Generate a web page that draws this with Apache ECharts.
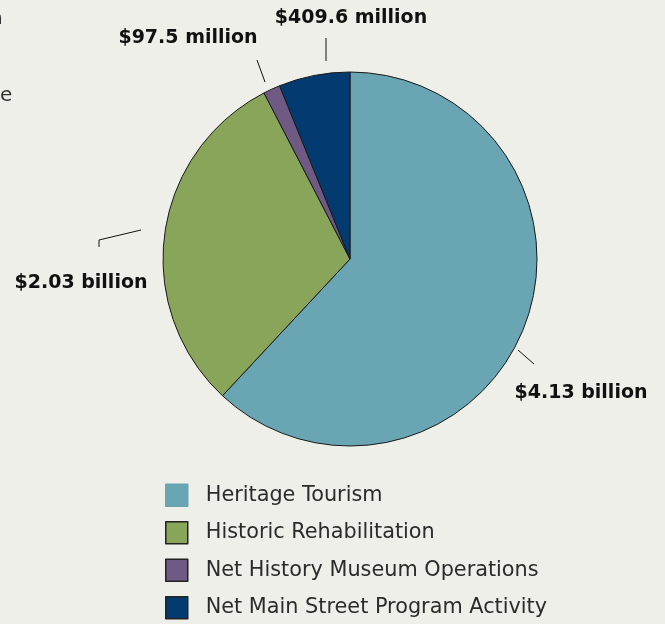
<!DOCTYPE html>
<html>
<head>
<meta charset="utf-8">
<script src="https://cdn.jsdelivr.net/npm/echarts@6/dist/echarts.min.js"></script>
<style>
html,body{margin:0;padding:0;background:#efefe9;}
#c{width:665px;height:624px;}
</style>
</head>
<body>
<div id="c"></div>
<script>
var categories = ['Heritage Tourism', 'Historic Rehabilitation', 'Net History Museum Operations', 'Net Main Street Program Activity'];
var values = [4130, 2030, 97.5, 409.6];
var valueLabels = ['$4.13 billion', '$2.03 billion', '$97.5 million', '$409.6 million'];

var colors = ['#6aa5b3', '#89a559', '#6f5a83', '#033a70'];
var CX = 350, CY = 259, R = 187;
// label anchors and leader lines, relative to pie centre (layout only)
var labelPos = [[231, 134], [-269, 24], [-162, -221], [1, -241]];
var linePts = [
  [[168, 91], [184, 105]],
  [[-209, -29], [-251, -19], [-251, -12]],
  [[-85, -177], [-93, -199]],
  [[-24, -198], [-24, -221]]
];

var chart = echarts.init(document.getElementById('c'));
chart.setOption({
  backgroundColor: '#efefe9',
  animation: false,
  graphic: [
    {type: 'text', left: -10, top: 9, style: {text: 'n', font: '20px "DejaVu Sans"', fill: '#333'}},
    {type: 'text', left: 0, top: 86, style: {text: 'e', font: '20px "DejaVu Sans"', fill: '#333'}}
  ],
  legend: {
    orient: 'vertical',
    left: 165,
    top: 483.5,
    height: 200,
    padding: 0,
    itemWidth: 22,
    itemHeight: 22,
    itemGap: 14,
    icon: 'rect',
    textStyle: {fontFamily: 'DejaVu Sans', fontWeight: 'normal', fontSize: 20.8, lineHeight: 22, color: '#2b2b2b', padding: [0, 0, 0, 13]},
    data: categories.map(function (c, i) {
      return {name: c, itemStyle: {borderColor: i === 0 ? colors[0] : '#222', borderWidth: 1.5}};
    })
  },
  series: [{
    type: 'pie',
    center: [CX, CY],
    radius: R,
    startAngle: 90,
    clockwise: true,
    silent: true,
    itemStyle: {borderColor: '#1a1a1a', borderWidth: 1},
    label: {
      show: true,
      position: 'outside',
      overflow: 'none',
      fontFamily: 'DejaVu Sans',
      fontWeight: 'bold',
      fontSize: 19,
      color: '#111',
      formatter: function (p) { return valueLabels[p.dataIndex]; }
    },
    labelLine: {show: true, lineStyle: {color: '#111', width: 1}},
    labelLayout: function (p) {
      var i = p.dataIndex;
      return {
        x: CX + labelPos[i][0],
        y: CY + labelPos[i][1],
        align: 'center',
        verticalAlign: 'middle',
        labelLinePoints: linePts[i].map(function (q) { return [CX + q[0], CY + q[1]]; })
      };
    },
    data: categories.map(function (c, i) {
      return {name: c, value: values[i], itemStyle: {color: colors[i]}};
    })
  }]
});
</script>
</body>
</html>
